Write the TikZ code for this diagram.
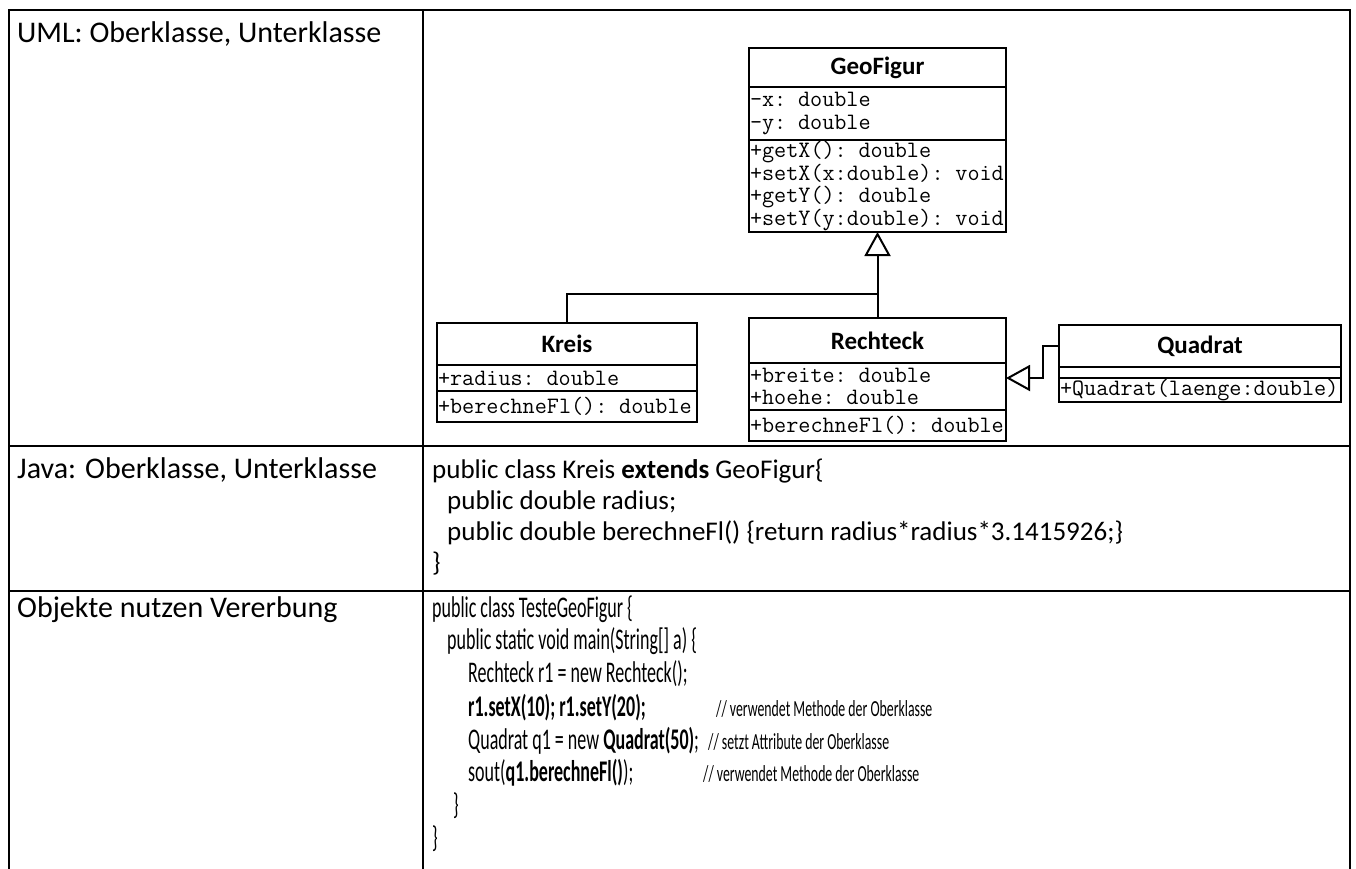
\documentclass[tikz,border=0pt]{standalone}
\usepackage{fontspec}
\setmainfont{Carlito}
\newfontfamily\condfont[FakeStretch=0.6]{Carlito}
\usetikzlibrary{positioning}
\usetikzlibrary{arrows.meta}

\begin{document}
\begin{tikzpicture}
        [
            x=1pt, y=-1pt,
            grid/.style={line width=2pt},
            label/.style={anchor=base west, inner sep=0pt, font=\fontsize{30}{34}\selectfont},
            code/.style={anchor=base west, inner sep=0pt, font=\fontsize{27}{31}\selectfont},
            codec/.style={anchor=base west, inner sep=0pt, font=\condfont\fontsize{30}{33}\selectfont},
            note/.style={anchor=base west, inner sep=0pt, font=\condfont\fontsize{23}{25}\selectfont},
            head/.style={rectangle, draw, line width=2pt, outer sep=0pt, anchor=north, font=\bfseries\fontsize{25}{28}\selectfont},
            part/.style={rectangle, draw, line width=2pt, outer sep=0pt, align=left, inner xsep=1pt, inner ysep=1pt, font=\ttfamily\fontsize{23.5}{22.5}\selectfont},
            link/.style={line width=2pt},
            inherit/.style={-{Triangle[open, length=24pt, width=26pt]}, line width=2pt}
        ]
        \useasboundingbox (0,0) rectangle (1356,868);
        %table
        \draw[grid] (9,870) |- (1350,10) -- (1350,870);
        \draw[grid] (423,10) -- (423,870);
        \draw[grid] (9,446) -- (1350,446);
        \draw[grid] (9,591) -- (1350,591);
        %left column
        \node[label] at (17,42)                 (lbl_uml)       {UML: Oberklasse, Unterklasse};
        \node[label] at (17,478)                (lbl_java)      {Java: Oberklasse, Unterklasse};
        \node[label] at (17,617)                (lbl_obj)       {Objekte nutzen Vererbung};
        %classes
        \node[head, minimum width=257pt, minimum height=39pt] at (877.5,48)       (geo)       {GeoFigur};
        \node[part, below=0pt of geo, text width=255pt, minimum height=53pt]       (geo_attr)  {-x: double\\-y: double};
        \node[part, below=0pt of geo_attr, text width=255pt, minimum height=92pt]  (geo_meth)  {+getX(): double\\+setX(x:double): void\\+getY(): double\\+setY(y:double): void};
        \node[head, minimum width=260pt, minimum height=42pt] at (567,323)         (kreis)     {Kreis};
        \node[part, below=0pt of kreis, text width=258pt, minimum height=26pt]     (kreis_attr) {+radius: double};
        \node[part, below=0pt of kreis_attr, text width=258pt, minimum height=31pt] (kreis_meth) {+berechneFl(): double};
        \node[head, minimum width=257pt, minimum height=45pt] at (877.5,318)       (rect)      {Rechteck};
        \node[part, below=0pt of rect, text width=255pt, minimum height=47pt]      (rect_attr) {+breite: double\\+hoehe: double};
        \node[part, below=0pt of rect_attr, text width=255pt, minimum height=31pt] (rect_meth) {+berechneFl(): double};
        \node[head, minimum width=282pt, minimum height=42pt] at (1200,325)        (quad)      {Quadrat};
        \node[part, below=0pt of quad, text width=280pt, minimum height=11pt]      (quad_attr) {};
        \node[part, below=0pt of quad_attr, text width=280pt, minimum height=21pt] (quad_meth) {+Quadrat(laenge:double)};
        %arrows
        \coordinate (fork) at (877.5,294);
        \coordinate (bend) at (1043,378);
        \draw[inherit] (rect.north) -- (geo_meth.south);
        \draw[link] (kreis.north) |- (fork);
        \draw[inherit] (quad.west) -| (bend) -- (bend -| rect_attr.east);
        %java code
        \node[code] at (432,478)                (kreis_l1)      {public class Kreis \textbf{extends} GeoFigur\{};
        \node[code] at (447,509)                (kreis_l2)      {public double radius;};
        \node[code] at (447,540)                (kreis_l3)      {public double berechneFl() \{return radius*radius*3.1415926;\}};
        \node[code] at (432,571)                (kreis_l4)      {\}};
        \node[codec] at (432,617)               (test_l1)       {public class TesteGeoFigur \{};
        \node[codec] at (447,649)               (test_l2)       {public static void main(String[] a) \{};
        \node[codec] at (468,682)               (test_l3)       {Rechteck r1 = new Rechteck();};
        \node[codec] at (468,716)               (test_l4)       {\textbf{r1.setX(10); r1.setY(20);}};
        \node[note] at (716,716)                (test_c4)       {// verwendet Methode der Oberklasse};
        \node[codec] at (468,749)               (test_l5)       {Quadrat q1 = new \textbf{Quadrat(50)};};
        \node[note] at (708,749)                (test_c5)       {// setzt Attribute der Oberklasse};
        \node[codec] at (468,781)               (test_l6)       {sout(\textbf{q1.berechneFl()});};
        \node[note] at (703,781)                (test_c6)       {// verwendet Methode der Oberklasse};
        \node[codec] at (453,814)               (test_l7)       {\}};
        \node[codec] at (432,847)               (test_l8)       {\}};
    \end{tikzpicture}
\end{document}
